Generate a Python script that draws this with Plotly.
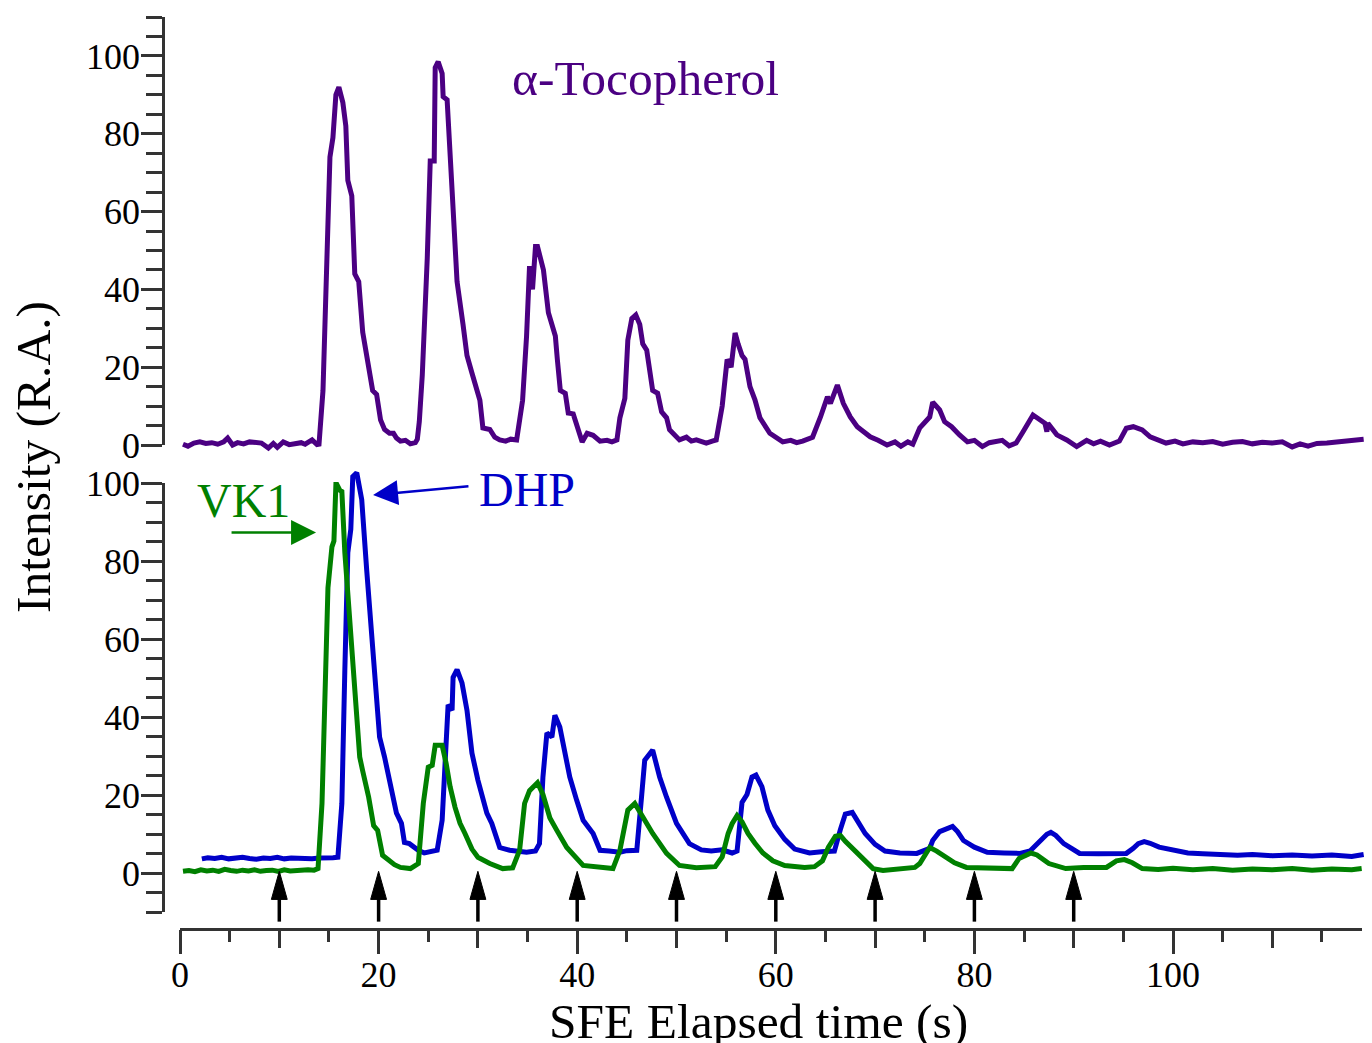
import plotly.graph_objects as go

# ---------------- data ----------------
toco_t = [0.3, 0.8, 1.4, 2.0, 2.6, 3.2, 3.8, 4.4, 4.8, 5.3, 5.8, 6.4, 7.0, 7.6, 8.2, 8.9, 9.4, 9.8,
          10.4, 11.0, 11.6, 12.2, 12.6, 13.3, 13.8,
          14.0, 14.4, 14.8, 15.1, 15.4, 15.7, 16.0, 16.4, 16.7, 16.9, 17.3, 17.6, 18.0, 18.2, 18.4,
          19.4, 19.8, 20.2, 20.6, 21.1, 21.5, 21.8, 22.2, 22.7, 23.2, 23.7,
          23.9, 24.1, 24.4, 24.9, 25.2, 25.6, 25.7, 26.0, 26.4, 26.5, 26.9, 27.4, 27.9, 28.5, 28.9,
          29.4, 30.2, 30.5, 31.2, 31.7, 32.2, 32.8, 33.3, 33.9,
          34.5, 34.9, 35.2, 35.5, 35.8, 36.0, 36.6, 37.1, 37.8, 38.0, 38.3, 38.8, 39.1, 39.6, 40.5,
          41.0, 41.6, 42.3, 43.0, 43.5, 44.0,
          44.3, 44.8, 45.1, 45.5, 45.9, 46.3, 46.6, 47.0, 47.6, 48.1, 48.5, 49.0, 49.3, 50.3, 51.0,
          51.5, 52.0, 53.0, 53.6, 54.0,
          54.6, 55.1, 55.5, 55.9, 56.2, 56.6, 56.9, 57.4, 57.9, 58.4, 59.4, 60.7, 61.5, 62.1, 62.7, 63.7,
          64.5, 65.2, 65.5, 66.2, 66.8, 67.5, 68.2, 69.5, 70.3, 71.2, 72.0, 72.6, 73.3, 73.8,
          74.5, 75.5, 75.8, 76.5, 77.0, 77.7, 78.5, 79.3, 80.0, 80.8, 81.5, 82.8, 83.5, 84.2,
          84.9, 85.9, 87.1, 87.3, 87.4, 88.3, 89.3, 90.3, 91.3, 92.0, 92.7, 93.6,
          94.6, 95.3, 96.0, 96.9, 97.7, 99.3, 100.2, 101.0, 102.0, 103.0, 104.0, 105.0, 106.0, 107.0,
          108.0, 109.0, 110.0, 111.0, 112.0, 112.8, 113.6, 114.5, 115.5, 116.5, 117.5, 118.6, 119.2]
toco_v = [0.2, -0.3, 0.5, 0.8, 0.4, 0.6, 0.2, 0.8, 1.8, 0.0, 0.6, 0.3, 0.8, 0.7, 0.5, -0.8, 0.4, -0.6,
          0.8, 0.1, 0.5, 0.6, 0.2, 1.3, 0.1,
          0.2, 14, 44, 74, 79, 90, 92, 88, 82, 68, 64, 44, 42, 34, 29,
          14, 13, 6.4, 4, 3, 3, 1.8, 1.0, 1.2, 0.3, 0.6,
          1.5, 6, 18, 48, 73, 73, 97, 98.5, 95.5, 89.5, 88.7, 65.5, 42, 31, 23,
          18.5, 11.5, 4.4, 4, 2, 1.3, 1.0, 1.5, 1.3,
          11.5, 28, 46, 40, 51, 51, 45, 34, 28, 22, 14, 13.3, 8.2, 8, 0.8,
          3, 2.5, 1, 1.2, 0.8, 1.3,
          7, 12, 27, 32.5, 33.4, 31, 26, 24.4, 14, 13.3, 8.5, 7, 3.9, 1.3, 2,
          1.0, 1.3, 0.5, 1.0, 1.3,
          10, 22, 20, 28.8, 26, 23, 22, 15, 11.6, 7, 3, 0.8, 1.2, 0.6, 1, 2,
          7.2, 12.4, 10.7, 15.4, 10.7, 7.2, 4.7, 2.1, 1.2, 0, 0.8, -0.3, 0.8, 0.2,
          4.4, 7.2, 11, 9, 6, 4.7, 2.6, 0.8, 1.2, -0.4, 0.6, 1.2, -0.2, 0.5,
          3.4, 7.7, 5.6, 3.4, 5.6, 2.6, 1.3, -0.4, 1.2, 0.3, 1.0, 0,
          1.0, 4.3, 4.7, 3.9, 2.1, 0.5, 1.0, 0.3, 0.8, 0.6, 0.9, 0.2, 0.7, 0.9,
          0.3, 0.7, 0.5, 0.8, -0.5, 0.3, -0.3, 0.4, 0.5, 0.7, 0.9, 1.2, 1.5]

dhp_t = [2.2, 2.8, 3.5, 4.2, 4.9, 5.6, 6.3, 7.0, 7.7, 8.4, 9.1, 9.8, 10.5, 11.2, 11.9, 12.6, 13.3,
         14.0, 14.7, 15.4, 15.9,
         16.3, 16.6, 16.9, 17.2, 17.4, 17.8, 18.3, 18.8, 19.3, 19.6, 20.1, 20.6, 21.1, 21.8, 22.3,
         22.6, 23.1, 23.5, 24.0, 24.6, 25.2, 25.9,
         26.4, 26.7, 27.0, 27.4, 27.5, 27.9, 28.4, 28.9, 29.4, 30.0, 30.9, 31.4, 32.2, 33.2, 34.0,
         34.9, 35.8, 36.2,
         36.55, 36.95, 37.45, 37.75, 38.25, 38.75, 39.25, 39.95, 40.6, 41.6, 42.3, 43.2, 44.3, 45.0, 46.0,
         46.5, 46.8, 47.6, 48.3, 49.0, 50.0, 51.3, 52.5, 53.5, 54.6, 55.6, 56.1,
         56.6, 57.1, 57.6, 58.0, 58.6, 59.2, 59.9, 60.9, 61.9, 63.4, 64.6, 65.9,
         66.5, 67.0, 67.7, 68.3, 69.0, 70.0, 71.0, 72.5, 74.2, 75.5,
         75.8, 76.5, 77.3, 77.8, 78.3, 78.9, 80.0, 81.3, 83.0, 84.6,
         85.6, 86.6, 87.3, 87.7, 88.2, 89.0, 90.1, 90.6, 92.5, 95.3,
         96.0, 96.5, 97.1, 97.7, 98.6, 99.9, 101.5, 103.0, 104.5, 106.5, 108.0, 110.0, 112.0,
         114.0, 116.0, 118.0, 119.2]
dhp_v = [3.5, 3.8, 3.6, 3.9, 3.5, 3.7, 3.9, 3.6, 3.4, 3.7, 3.6, 3.9, 3.5, 3.7, 3.6, 3.8, 3.5,
         3.7, 3.6, 3.8, 3.9,
         17.7, 52, 82, 88, 101.5, 102.5, 95.6, 77.6, 60.4, 48.6, 34.7, 29.6, 23.7, 15.2, 12.6,
         7.7, 7.4, 6.5, 5.7, 5.0, 5.2, 5.7,
         13.4, 26, 43, 41.6, 50, 52, 48.6, 41.6, 30.6, 23.7, 15.2, 12.6, 6.4, 5.7, 5.5,
         5.2, 5.5, 7.4,
         24.5, 35.8, 34.7, 40.3, 37.3, 31.4, 24.5, 18.5, 13.4, 10, 5.7, 5.5, 5.2, 5.6, 5.7,
         20, 28.8, 31.4, 24.5, 19.3, 12.6, 7.4, 5.8, 5.5, 5.8, 5.0, 5.5,
         18, 20, 24.5, 25, 22, 16, 12, 8.5, 6, 5.0, 5.3, 5.5,
         11, 15, 15.4, 13, 10, 7.2, 5.5, 5.0, 4.9, 6.2,
         8.2, 10.5, 11.5, 11.8, 10.5, 8.2, 6.5, 5.2, 5.0, 4.9,
         5.5, 8.2, 9.8, 10.3, 9.5, 7.4, 5.5, 4.9, 4.8, 4.9,
         6.2, 7.4, 7.9, 7.5, 6.5, 5.7, 5.0, 4.8, 4.6, 4.4, 4.6, 4.3, 4.5,
         4.2, 4.5, 4.1, 4.6]

vk1_t = [0.3, 0.9, 1.5, 2.1, 2.7, 3.3, 3.9, 4.5, 5.1, 5.7, 6.3, 6.9, 7.5, 8.1, 8.7, 9.3, 9.9, 10.5,
         11.1, 11.7, 12.3, 12.9, 13.5, 13.9,
         14.3, 14.6, 14.9, 15.3, 15.5, 15.7, 15.8, 16.1, 16.3, 16.6, 17.1, 17.6, 18.1, 18.4, 19.0,
         19.5, 19.9, 20.4, 21.1, 21.6, 22.2, 23.2, 24.0,
         24.5, 25.0, 25.4, 25.7, 26.4, 26.8, 27.2, 27.7, 28.2, 28.7, 29.4, 30.0, 31.2, 32.5, 33.5,
         34.2, 34.7, 35.2, 36.0, 36.55, 37.25, 37.95, 38.95, 40.6, 42.0, 43.6,
         44.3, 45.1, 45.8, 46.6, 47.6, 49.0, 50.3, 52.0, 53.9,
         54.6, 55.2, 55.6, 56.1, 56.6, 57.2, 57.9, 58.7, 59.7, 60.9, 62.9, 63.9,
         64.7, 65.3, 66.0, 66.5, 67.0, 67.8, 68.7, 69.8, 70.8, 72.5, 74.0, 74.5, 75.5, 76.2, 77.2,
         78.0, 79.2, 81.0, 82.5, 83.8, 84.5, 85.7, 86.3, 87.5, 89.2, 91.0, 93.3, 94.3, 95.1, 95.9,
         96.9, 98.5, 100.0, 102.0, 104.0, 106.0, 108.0, 110.0, 112.0, 114.0, 116.0, 118.0, 119.0]
vk1_v = [0.3, 0.5, 0.2, 0.7, 0.4, 0.6, 0.3, 0.8, 0.5, 0.3, 0.6, 0.4, 0.7, 0.3, 0.5, 0.6, 0.3, 0.7,
         0.4, 0.6, 0.5, 0.7, 0.6, 1.0,
         17.7, 43, 73, 83.5, 85, 99.5, 99.5, 98, 97.7, 82, 65, 47, 29.6, 26, 19.3,
         12, 10.8, 4.4, 3.1, 2.0, 1.3, 1.0, 2.3,
         17.7, 27, 27.5, 32.6, 32.6, 28, 22, 16.7, 12.6, 10, 6, 3.9, 2.3, 1.0, 1.2,
         5.7, 17.7, 21, 23, 20, 14, 10.8, 6.4, 1.8, 1.3, 1.0,
         5.7, 16, 17.7, 14, 10, 4.9, 1.8, 1.2, 1.5,
         4, 10, 12.5, 14.6, 13, 10, 7.5, 5, 3, 1.8, 1.3, 1.5,
         3, 6.5, 9.3, 9.5, 8, 6, 3.6, 1.0, 0.5, 1.0, 1.3, 2.3, 6.4, 5.5, 3.9,
         2.5, 1.3, 1.2, 0.8, 1.0, 3.6, 5.0, 4.5, 2.3, 1.0, 1.3, 1.3, 3.0, 3.3, 2.5,
         1.0, 0.8, 1.1, 0.7, 1.0, 0.6, 0.9, 0.7, 1.0, 0.6, 0.9, 0.7, 1.0]

injection_times = [10, 20, 30, 40, 50, 60, 70, 80, 90]

x_ticks_major = [0, 20, 40, 60, 80, 100]
y_ticks_major = [0, 20, 40, 60, 80, 100]

# ---------------- style ----------------
W, H = 1372, 1043
FONT = "Liberation Serif"
AX = "#333333"
PURPLE = "#4B0082"
BLUE = "#0000C8"
GREEN = "#008000"

PX_PER_S = 9.93
X0_PX = 180
X_END = 119.0
TOP_PX_PER = 3.891
BOT_PX_PER = 3.9
LW = 5

fig = go.Figure()

fig.add_trace(go.Scatter(x=toco_t, y=toco_v, mode="lines", xaxis="x3", yaxis="y3",
                         line=dict(color=PURPLE, width=LW), showlegend=False, hoverinfo="skip"))
fig.add_trace(go.Scatter(x=dhp_t, y=dhp_v, mode="lines", xaxis="x3", yaxis="y4",
                         line=dict(color=BLUE, width=LW), showlegend=False, hoverinfo="skip"))
fig.add_trace(go.Scatter(x=vk1_t, y=vk1_v, mode="lines", xaxis="x3", yaxis="y4",
                         line=dict(color=GREEN, width=LW), showlegend=False, hoverinfo="skip"))

for xa, ya in [("x", "y"), ("x", "y2"), ("x4", "y")]:
    fig.add_trace(go.Scatter(x=[None], y=[None], xaxis=xa, yaxis=ya, mode="lines",
                             showlegend=False, hoverinfo="skip"))

tickfont = dict(family=FONT, size=36, color="black")

x_dom = [X0_PX / W, (X0_PX + X_END * PX_PER_S) / W]
x_pos = 1 - 929 / H
y_pos = 163 / W

common_line = dict(showline=True, linecolor=AX, linewidth=2.5, showgrid=False, zeroline=False,
                   ticks="outside", tickcolor=AX, tickwidth=2.5, automargin=False)

fig.update_layout(
    width=W, height=H,
    margin=dict(l=0, r=0, t=0, b=0, pad=0, autoexpand=False),
    paper_bgcolor="white", plot_bgcolor="rgba(0,0,0,0)",
    showlegend=False,
    xaxis=dict(domain=x_dom, range=[0, X_END], anchor="free", position=x_pos,
               tickvals=x_ticks_major, ticklen=23, tickfont=tickfont, ticklabelstandoff=-10,
               minor=dict(dtick=5, tick0=0, ticklen=11, tickwidth=2.5, tickcolor=AX,
                          ticks="outside", showgrid=False),
               **common_line),
    xaxis4=dict(overlaying="x", range=[0, X_END], anchor="free", position=x_pos,
                tickmode="linear", tick0=0, dtick=10, ticklen=18, ticks="outside",
                tickcolor=AX, tickwidth=2.5, showticklabels=False, showline=False,
                showgrid=False, zeroline=False, automargin=False),
    yaxis=dict(domain=[1 - 445 / H, 1 - 17 / H], range=[0, 110], anchor="free", position=y_pos,
               tickvals=y_ticks_major, ticklen=21, tickfont=tickfont, ticklabelstandoff=-6,
               minor=dict(dtick=5, tick0=0, ticklen=16, tickwidth=2.5, tickcolor=AX,
                          ticks="outside", showgrid=False),
               **common_line),
    yaxis2=dict(domain=[1 - 912 / H, 1 - 483 / H], range=[-10, 100], anchor="free", position=y_pos,
                tickvals=y_ticks_major, ticklen=21, tickfont=tickfont, ticklabelstandoff=-6,
                minor=dict(dtick=5, tick0=0, ticklen=16, tickwidth=2.5, tickcolor=AX,
                           ticks="outside", showgrid=False),
                **common_line),
    xaxis3=dict(domain=[0, 1], range=[-X0_PX / PX_PER_S, (W - X0_PX) / PX_PER_S], visible=False,
                anchor="y3", automargin=False),
    yaxis3=dict(domain=[0, 1], range=[(445 - H) / TOP_PX_PER, 445 / TOP_PX_PER], visible=False,
                anchor="x3", automargin=False),
    yaxis4=dict(domain=[0, 1], range=[(872.5 - H) / BOT_PX_PER, 872.5 / BOT_PX_PER], visible=False,
                anchor="x3", automargin=False),
)

shapes = []
ARROW_TIP = 0.3
ARROW_BASE = -6.9
ARROW_TAIL = -12.6
HALF_W = 0.8
for t in injection_times:
    shapes.append(dict(type="line", xref="x3", yref="y4", x0=t, x1=t, y0=ARROW_TAIL, y1=ARROW_BASE + 0.5,
                       line=dict(color="black", width=3.5)))
    shapes.append(dict(type="path", xref="x3", yref="y4",
                       path=f"M {t - HALF_W},{ARROW_BASE} L {t},{ARROW_TIP} L {t + HALF_W},{ARROW_BASE} Z",
                       fillcolor="black", line=dict(color="black", width=1)))
fig.update_layout(shapes=shapes)

annotations = [
    dict(text="α-Tocopherol", x=46.9, y=94.3, xref="x3", yref="y3", showarrow=False,
         font=dict(family=FONT, size=49.5, color=PURPLE), xanchor="center", yanchor="middle"),
    dict(text="DHP", x=34.9, y=98.3, xref="x3", yref="y4", showarrow=False,
         font=dict(family=FONT, size=48, color=BLUE), xanchor="center", yanchor="middle"),
    dict(text="VK1", x=6.35, y=95.5, xref="x3", yref="y4", showarrow=False,
         font=dict(family=FONT, size=48, color=GREEN), xanchor="center", yanchor="middle"),
    dict(text="", x=13.7, y=87.2, ax=5.04, ay=87.2, xref="x3", yref="y4", axref="x3", ayref="y4",
         showarrow=True, arrowhead=2, arrowsize=2.0, arrowwidth=2.5, arrowcolor=GREEN, standoff=0),
    dict(text="", x=19.44, y=96.8, ax=29.2, ay=99.1, xref="x3", yref="y4", axref="x3", ayref="y4",
         showarrow=True, arrowhead=2, arrowsize=2.0, arrowwidth=2.5, arrowcolor=BLUE, standoff=0),
    dict(text="SFE Elapsed time (s)", x=758 / W, y=1 - 1021 / H, xref="paper", yref="paper",
         showarrow=False, font=dict(family=FONT, size=49.5, color="black"),
         xanchor="center", yanchor="middle"),
    dict(text="Intensity (R.A.)", x=34 / W, y=1 - 457 / H, xref="paper", yref="paper",
         showarrow=False, textangle=-90, font=dict(family=FONT, size=49.5, color="black"),
         xanchor="center", yanchor="middle"),
]
fig.update_layout(annotations=annotations)

fig.write_html("out.html")
